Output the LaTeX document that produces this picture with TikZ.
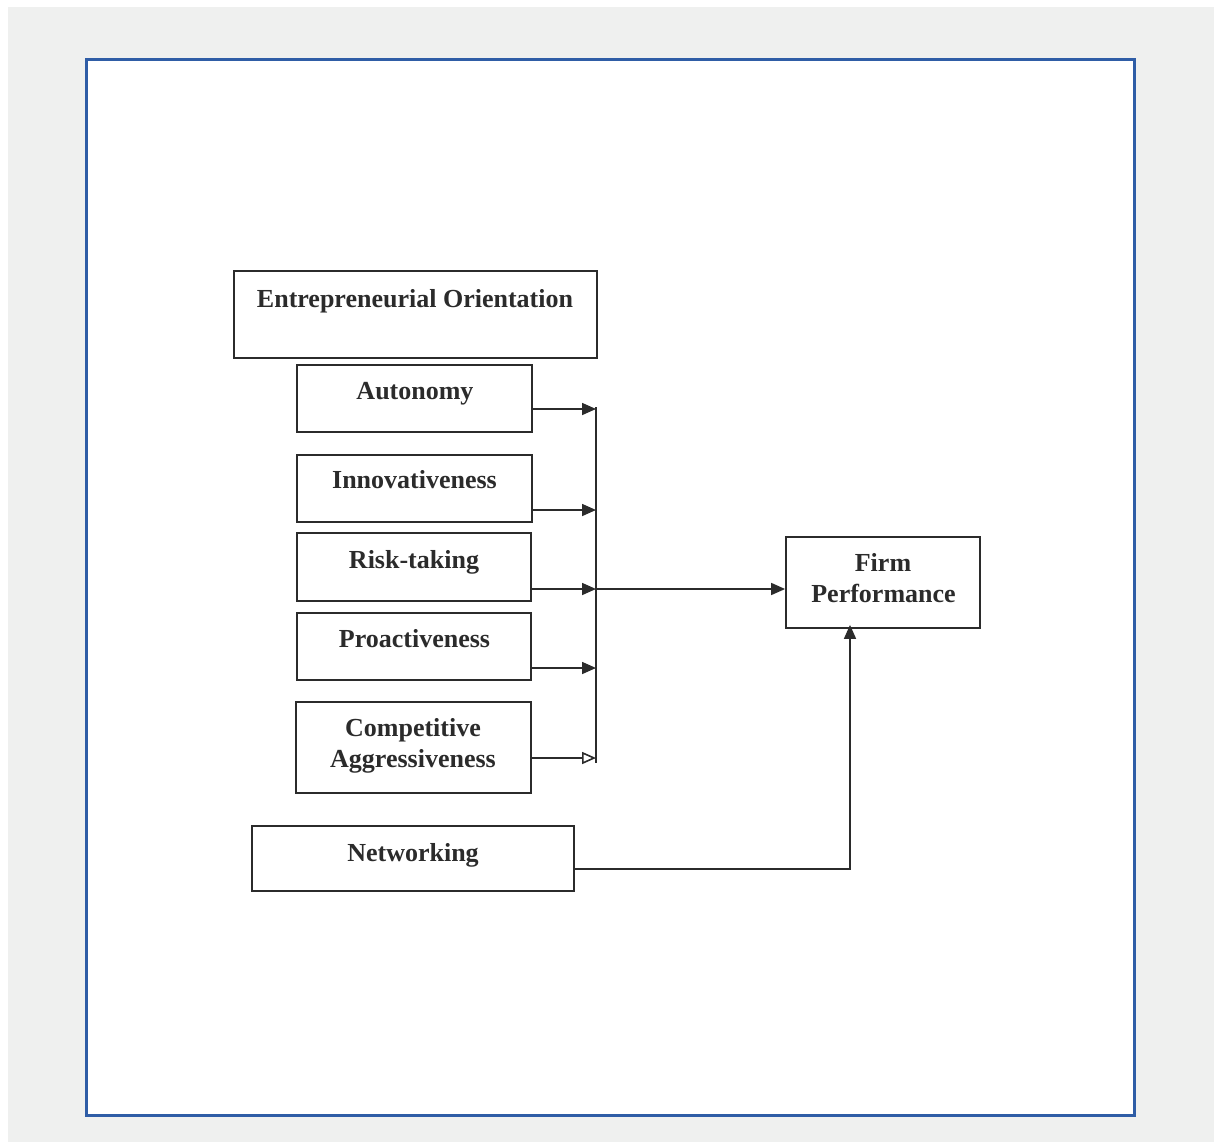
\documentclass[tikz,border=0pt]{standalone}
\usepackage{fontspec}
\setmainfont{Liberation Serif}
\usetikzlibrary{arrows.meta}
\definecolor{pagegray}{HTML}{EFF0EF}
\definecolor{framblue}{HTML}{2F5DA6}
\definecolor{ink}{HTML}{2B2B2B}
\tikzset{
  box/.style={draw=ink, line width=1.8pt, inner sep=0pt, rectangle},
  lbl/.style={anchor=base, inner sep=0pt, text=ink, font=\fontsize{26}{31}\selectfont\bfseries},
  link/.style={draw=ink, line width=1.6pt},
  arr/.style={link, -{Triangle[length=14pt,width=12pt]}},
  openarr/.style={link, -{Triangle[open,length=14pt,width=12pt]}},
}
\begin{document}
\begin{tikzpicture}[x=1pt,y=-1pt]
  \useasboundingbox (0,0) rectangle (1214,1142);
  % page and frame
  \fill[white] (0,0) rectangle (1214,1142);
  \fill[pagegray] (8,7) rectangle (1214,1142);
  \draw[framblue, line width=3pt, fill=white] (86,60) rectangle (1134,1115);

  % boxes
  \node[box, minimum width=363pt, minimum height=87pt] (eo) at (415.5,314.5) {};
  \node[box, minimum width=235pt, minimum height=67pt] (auto) at (414.5,398.5) {};
  \node[box, minimum width=235pt, minimum height=67pt] (inno) at (414.5,488.5) {};
  \node[box, minimum width=234pt, minimum height=68pt] (risk) at (414,567) {};
  \node[box, minimum width=234pt, minimum height=67pt] (proa) at (414,646.5) {};
  \node[box, minimum width=235pt, minimum height=91pt] (comp) at (413.5,747.5) {};
  \node[box, minimum width=322pt, minimum height=65pt] (netw) at (413,858.5) {};
  \node[box, minimum width=194pt, minimum height=91pt] (firm) at (883,582.5) {};

  % labels
  \node[lbl] (eoT) at (415,307) {Entrepreneurial Orientation};
  \node[lbl] (autoT) at (415,399) {Autonomy};
  \node[lbl] (innoT) at (414.5,488) {Innovativeness};
  \node[lbl] (riskT) at (414,568) {Risk-taking};
  \node[lbl] (proaT) at (414.5,647) {Proactiveness};
  \node[lbl] (compT) at (413,736) {Competitive};
  \node[lbl] (compT2) at (413,767) {Aggressiveness};
  \node[lbl] (netwT) at (413,861) {Networking};
  \node[lbl] (firmT) at (883,571) {Firm};
  \node[lbl] (firmT2) at (883.5,602) {Performance};

  % collecting bar
  \coordinate (b1) at (596,409);
  \coordinate (b2) at (596,510);
  \coordinate (b3) at (596,589);
  \coordinate (b4) at (596,668);
  \coordinate (b5) at (596,758);
  \draw[link] (596,407) -- (596,763);

  % dimension arrows into the bar
  \draw[arr] (auto.east |- b1) -- (b1);
  \draw[arr] (inno.east |- b2) -- (b2);
  \draw[arr] (risk.east |- b3) -- (b3);
  \draw[arr] (proa.east |- b4) -- (b4);
  \draw[openarr] (comp.east |- b5) -- (b5);

  % into firm performance
  \draw[arr] (b3) -- (firm.west |- b3);
  \coordinate (nc) at (850,869);
  \draw[arr] (netw.east |- nc) -- (nc) -- ([yshift=4pt]firm.south -| nc);
\end{tikzpicture}
\end{document}
